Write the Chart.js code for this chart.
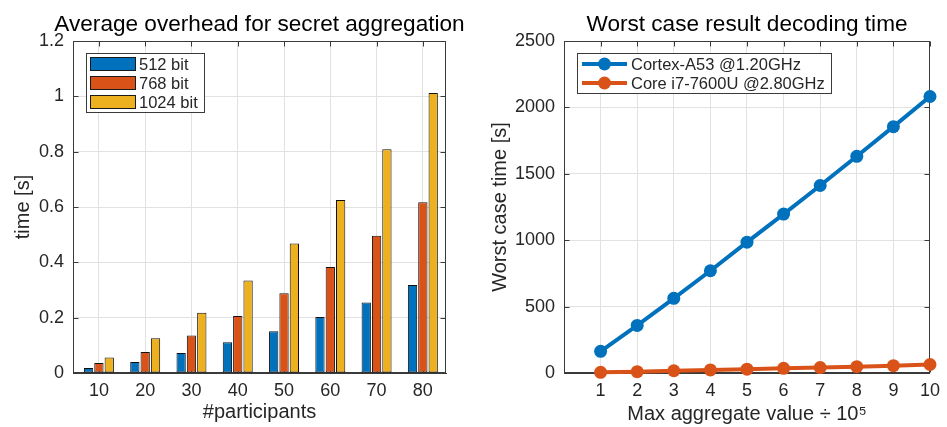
<!DOCTYPE html>
<html><head><meta charset="utf-8">
<script src="https://cdn.jsdelivr.net/npm/chart.js@4.4.1/dist/chart.umd.min.js"></script>
<style>
html,body{margin:0;padding:0;background:#fff;width:947px;height:427px;overflow:hidden;}
#c1{position:absolute;left:0;top:0;}
#c2{position:absolute;left:470px;top:0;}
</style></head><body>
<canvas id="c1" width="470" height="427"></canvas>
<canvas id="c2" width="477" height="427"></canvas>
<script>
// ---- Left chart data ----
const participants = [10, 20, 30, 40, 50, 60, 70, 80];
const bits512  = [0.018, 0.040, 0.072, 0.111, 0.151, 0.202, 0.255, 0.318];
const bits768  = [0.036, 0.076, 0.136, 0.206, 0.288, 0.383, 0.496, 0.617];
const bits1024 = [0.056, 0.126, 0.218, 0.334, 0.468, 0.625, 0.809, 1.012];
const barSeriesNames = ['512 bit', '768 bit', '1024 bit'];
const overheadTicks = [0, 0.2, 0.4, 0.6, 0.8, 1, 1.2];

// ---- Right chart data ----
const maxAggregate = [1, 2, 3, 4, 5, 6, 7, 8, 9, 10];
const cortexA53 = [163, 358, 562, 770, 985, 1197, 1412, 1632, 1855, 2082];
const coreI7    = [5, 10, 17, 23, 29, 35, 41, 48, 55, 64];
const lineSeriesNames = ['Cortex-A53 @1.20GHz', 'Core i7-7600U @2.80GHz'];
const decodeTicks = [0, 500, 1000, 1500, 2000, 2500];

const titleLeft = 'Average overhead for secret aggregation';
const titleRight = 'Worst case result decoding time';

const FONT = "'Liberation Sans', Arial, Helvetica, sans-serif";
const INK = '#262626';
const GRID = '#e2e2e2';
const BLUE = '#0072BD', ORANGE = '#D95319', YELLOW = '#EDB120';

Chart.defaults.font.family = FONT;
Chart.defaults.color = INK;

const framePlugin = {
  id: 'frame',
  beforeDatasetsDraw(chart) {
    const {ctx, chartArea: a, scales} = chart;
    const L = Math.round(a.left) + 0.5, R = Math.round(a.right) - 0.5;
    const T = Math.round(a.top) + 0.5, B = Math.round(a.bottom) - 0.5;
    ctx.save();
    ctx.strokeStyle = '#3a3a3a';
    ctx.lineWidth = 1;
    ctx.strokeRect(L, T, R - L, B - T);
    ctx.beginPath();
    scales.x.ticks.forEach(t => {
      const p = Math.round(scales.x.getPixelForValue(t.value)) + 0.5;
      ctx.moveTo(p, B); ctx.lineTo(p, B - 5);
      ctx.moveTo(p, T); ctx.lineTo(p, T + 5);
    });
    scales.y.ticks.forEach(t => {
      const p = Math.round(scales.y.getPixelForValue(t.value)) + 0.5;
      ctx.moveTo(L, p); ctx.lineTo(L + 5, p);
      ctx.moveTo(R, p); ctx.lineTo(R - 5, p);
    });
    ctx.stroke();
    ctx.restore();
  }
};

const centerTitle = {
  id: 'centerTitle',
  afterLayout(chart) {
    const t = chart.titleBlock;
    if (!t) return;
    const c = (chart.chartArea.left + chart.chartArea.right) / 2;
    t.left = c - 400; t.right = c + 400; t.width = 800;
  }
};

const boxLegend = {
  id: 'boxLegend',
  afterDatasetsDraw(chart, args, o) {
    if (!o || !o.kind) return;
    const {ctx, chartArea: a} = chart;
    const ds = chart.data.datasets;
    ctx.save();
    ctx.font = `16.5px ${FONT}`;
    const textW = Math.max(...ds.map(d => ctx.measureText(d.label).width));
    const x0 = Math.round(a.left + o.dx), y0 = Math.round(a.top + o.dy);
    const w = Math.round(o.pad + o.sw + o.gap + textW + o.padR);
    const h = o.first + o.row * (ds.length - 1) + o.last;
    ctx.fillStyle = '#fff';
    ctx.fillRect(x0, y0, w, h);
    ctx.strokeStyle = '#3a3a3a'; ctx.lineWidth = 1;
    ctx.strokeRect(x0 + 0.5, y0 + 0.5, w, h);
    ds.forEach((d, i) => {
      const cy = y0 + o.first + o.row * i;
      const sx = x0 + o.pad;
      if (o.kind === 'bar') {
        ctx.fillStyle = d.backgroundColor;
        ctx.fillRect(sx, cy - 7, o.sw, 14);
        ctx.strokeStyle = '#1a1a1a'; ctx.lineWidth = 1;
        ctx.strokeRect(sx + 0.5, cy - 6.5, o.sw - 1, 13);
      } else {
        ctx.strokeStyle = d.borderColor; ctx.lineWidth = 4;
        ctx.beginPath(); ctx.moveTo(sx, cy); ctx.lineTo(sx + o.sw, cy); ctx.stroke();
        ctx.fillStyle = d.borderColor;
        ctx.beginPath(); ctx.arc(sx + o.sw / 2, cy, 6.5, 0, Math.PI * 2); ctx.fill();
      }
      ctx.fillStyle = INK; ctx.textBaseline = 'middle'; ctx.textAlign = 'left';
      ctx.fillText(d.label, sx + o.sw + o.gap, cy + 1);
    });
    ctx.restore();
  }
};

// ---- Left: grouped bars ----
new Chart(document.getElementById('c1'), {
  type: 'bar',
  data: {
    labels: participants,
    datasets: [
      {label: barSeriesNames[0], data: bits512, backgroundColor: BLUE},
      {label: barSeriesNames[1], data: bits768, backgroundColor: ORANGE},
      {label: barSeriesNames[2], data: bits1024, backgroundColor: YELLOW}
    ].map(d => Object.assign(d, {borderColor: '#111', borderWidth: 1, borderSkipped: false,
      categoryPercentage: 0.67, barPercentage: 0.9}))
  },
  options: {
    responsive: false, animation: false, devicePixelRatio: 1,
    layout: {padding: {top: 0, left: 0, right: 24, bottom: 0}},
    plugins: {
      legend: {display: false}, tooltip: {enabled: false},
      title: {display: true, text: titleLeft, color: '#000', font: {size: 22.6, weight: 'normal'},
        padding: {top: 11, bottom: 2.9}},
      boxLegend: {kind: 'bar', dx: 13, dy: 12, pad: 4, sw: 46, gap: 3, padR: 6, first: 11, row: 19, last: 10}
    },
    scales: {
      x: {
        type: 'linear', min: 4.4, max: 85, offset: false,
        grid: {offset: false, color: GRID, drawTicks: false},
        border: {color: '#3a3a3a'},
        afterBuildTicks: s => { s.ticks = participants.map(v => ({value: v})); },
        ticks: {padding: 7, font: {size: 18}, color: INK, callback: v => String(v)},
        afterFit: s => { s.height = 54; },
        title: {display: true, text: '#participants', font: {size: 20}, color: INK, padding: {top: 0, bottom: 2.5}}
      },
      y: {
        min: 0, max: 1.2,
        grid: {color: GRID, drawTicks: false},
        border: {color: '#3a3a3a'},
        afterBuildTicks: s => { s.ticks = overheadTicks.map(v => ({value: v})); },
        ticks: {padding: 9, font: {size: 18}, color: INK, callback: v => String(Math.round(v * 10) / 10)},
        afterFit: s => { s.width = 73; },
        title: {display: true, text: 'time [s]', font: {size: 20}, color: INK, padding: {top: 11, bottom: 0}}
      }
    }
  },
  plugins: [framePlugin, centerTitle, boxLegend]
});

// ---- Right: lines with markers ----
new Chart(document.getElementById('c2'), {
  type: 'line',
  data: {
    labels: maxAggregate,
    datasets: [
      {label: lineSeriesNames[0], data: cortexA53, borderColor: BLUE, backgroundColor: BLUE},
      {label: lineSeriesNames[1], data: coreI7, borderColor: ORANGE, backgroundColor: ORANGE}
    ].map(d => Object.assign(d, {borderWidth: 4, pointRadius: 6.5, pointBorderWidth: 0,
      pointBackgroundColor: d.borderColor, tension: 0, clip: false}))
  },
  options: {
    responsive: false, animation: false, devicePixelRatio: 1,
    layout: {padding: {top: 0, left: 0, right: 10, bottom: 0}},
    plugins: {
      legend: {display: false}, tooltip: {enabled: false},
      title: {display: true, text: titleRight, color: '#000', font: {size: 22.6, weight: 'normal'},
        padding: {top: 11, bottom: 2.9}},
      boxLegend: {kind: 'line', dx: 13, dy: 12, pad: 5, sw: 45, gap: 4, padR: 6, first: 11, row: 19, last: 10}
    },
    scales: {
      x: {
        type: 'linear', min: 0, max: 10,
        grid: {color: GRID, drawTicks: false},
        border: {color: '#3a3a3a'},
        afterBuildTicks: s => { s.ticks = maxAggregate.map(v => ({value: v})); },
        ticks: {padding: 7, font: {size: 18}, color: INK, callback: v => String(v)},
        afterFit: s => { s.height = 54; },
        title: {display: true, text: 'Max aggregate value ÷ 10⁵', font: {size: 20}, color: INK, padding: {top: 0, bottom: 1}}
      },
      y: {
        min: 0, max: 2500,
        grid: {color: GRID, drawTicks: false},
        border: {color: '#3a3a3a'},
        afterBuildTicks: s => { s.ticks = decodeTicks.map(v => ({value: v})); },
        ticks: {padding: 9, font: {size: 18}, color: INK, callback: v => String(v)},
        afterFit: s => { s.width = 94; },
        title: {display: true, text: 'Worst case time [s]', font: {size: 20}, color: INK, padding: {top: 18, bottom: 0}}
      }
    }
  },
  plugins: [framePlugin, centerTitle, boxLegend]
});
</script>
</body></html>
